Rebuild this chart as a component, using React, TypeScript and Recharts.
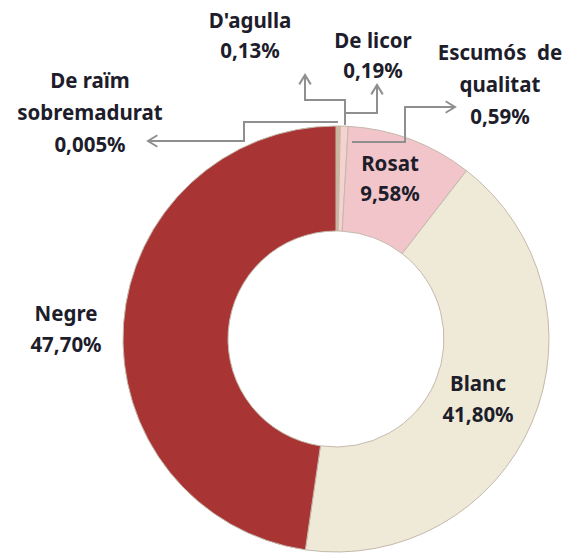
import { PieChart, Pie, Cell } from 'recharts'

const categories = ['De raïm sobremadurat', "D'agulla", 'De licor', 'Escumós de qualitat', 'Rosat', 'Blanc', 'Negre']
const shares = [0.005, 0.13, 0.19, 0.59, 9.58, 41.8, 47.7]
const shareLabels = ['0,005%', '0,13%', '0,19%', '0,59%', '9,58%', '41,80%', '47,70%']
const labelLines = [['De raïm', 'sobremadurat'], ["D'agulla"], ['De licor'], ['Escumós  de', 'qualitat'], ['Rosat'], ['Blanc'], ['Negre']]

const colors = ['#8e3a36', '#dfa272', '#d8b48c', '#f3d2cf', '#f2c5ca', '#efead7', '#a83434']

// label placement relative to pie centre, and elbow leader lines for the tiny slices
const labelPos = [
  { x: -246, y: -259, lh: 32 },
  { x: -86, y: -319, lh: 30 },
  { x: 37, y: -299, lh: 30 },
  { x: 164, y: -287, lh: 32 },
  { x: 54, y: -176, lh: 30 },
  { x: 142, y: 44, lh: 31 },
  { x: -270, y: -26, lh: 31 },
]
const leaders: number[][][] = [
  [[2, -217], [-92, -217], [-92, -198], [-188, -198]],
  [[9, -214], [9, -239], [-31, -239], [-31, -264]],
  [[9, -226], [41, -226], [41, -254]],
  [[16, -197], [69, -197], [69, -232], [119, -232]],
]

const data = categories.map((name, i) => ({ name, value: shares[i] }))

function arrowHead(p: number[], q: number[]) {
  const ang = Math.atan2(q[1] - p[1], q[0] - p[0])
  const len = 11, w = 0.55
  const a = [q[0] - len * Math.cos(ang - w), q[1] - len * Math.sin(ang - w)]
  const b = [q[0] - len * Math.cos(ang + w), q[1] - len * Math.sin(ang + w)]
  return `M${a[0]},${a[1]} L${q[0]},${q[1]} L${b[0]},${b[1]}`
}

function renderLabel(props: any) {
  const { cx, cy, index } = props
  const pos = labelPos[index]
  const lines = [...labelLines[index], shareLabels[index]]
  const lead = leaders[index]
  return (
    <g key={`lbl-${index}`}>
      {lead && (
        <g stroke="#8f8f8f" strokeWidth={2} fill="none">
          <polyline points={lead.map(p => `${cx + p[0]},${cy + p[1]}`).join(' ')} />
          <path d={arrowHead(
            [cx + lead[lead.length - 2][0], cy + lead[lead.length - 2][1]],
            [cx + lead[lead.length - 1][0], cy + lead[lead.length - 1][1]],
          )} />
        </g>
      )}
      {lines.map((t, j) => (
        <text
          key={j}
          x={cx + pos.x}
          y={cy + pos.y + j * pos.lh}
          textAnchor="middle"
          dominantBaseline="central"
          fill="#1d1d2b"
          style={{ fontFamily: '"Noto Sans", sans-serif', fontSize: 20.5, fontWeight: 700, whiteSpace: 'pre' }}
        >
          {t}
        </text>
      ))}
    </g>
  )
}

export default function App() {
  return (
    <div style={{ position: 'absolute', left: 0, top: 0, width: 577, height: 555, background: '#fff' }}>
      <PieChart width={577} height={555} margin={{ top: 0, right: 0, bottom: 0, left: 0 }}>
        <Pie
          data={data}
          dataKey="value"
          nameKey="name"
          cx={336}
          cy={339}
          innerRadius={108}
          outerRadius={213}
          startAngle={90}
          endAngle={-270}
          stroke="#c4b9ab"
          strokeWidth={1}
          label={renderLabel}
          labelLine={false}
          isAnimationActive={false}
        >
          {data.map((d, i) => <Cell key={d.name} fill={colors[i]} />)}
        </Pie>
      </PieChart>
    </div>
  )
}
